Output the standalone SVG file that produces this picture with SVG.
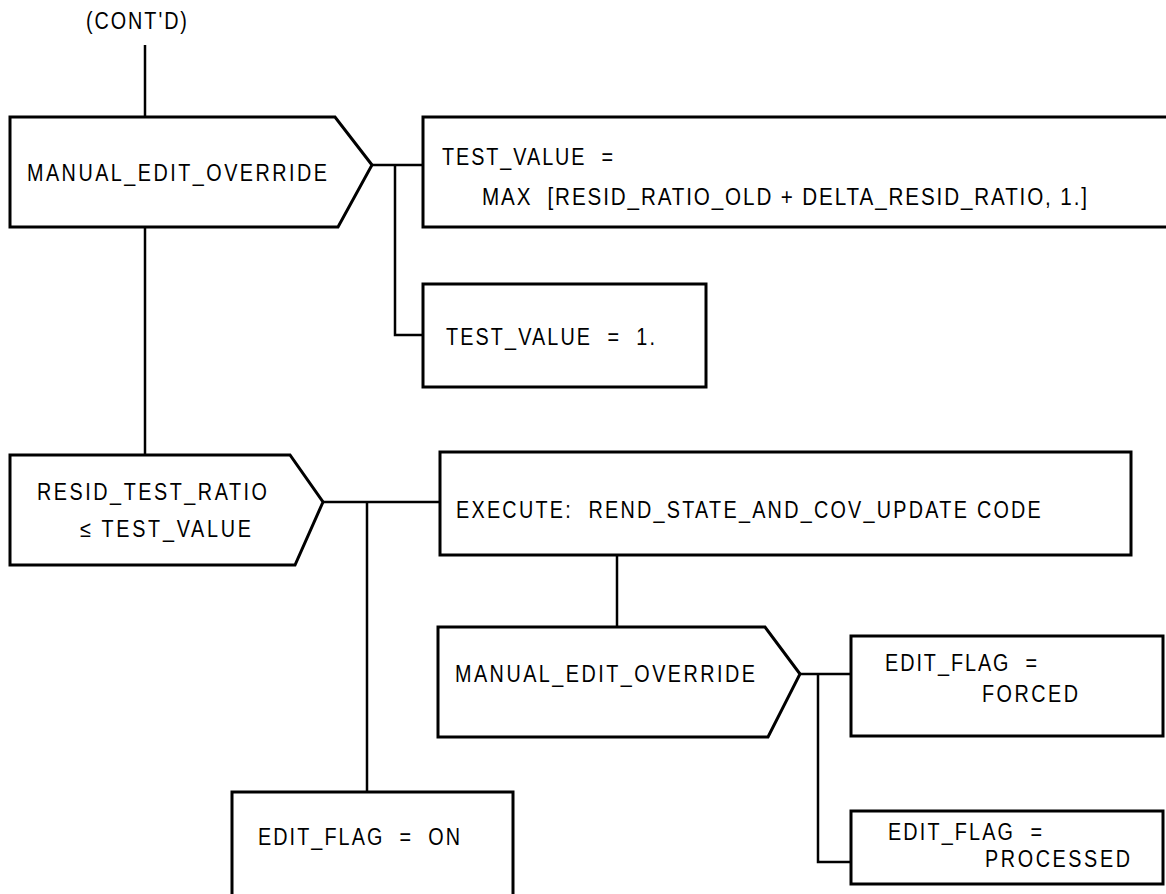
<svg xmlns="http://www.w3.org/2000/svg" width="1166" height="894" viewBox="0 0 1166 894" xml:space="preserve">
<style>
.n{fill:#fff;stroke:#000;stroke-width:3;stroke-linejoin:miter}
.c{fill:none;stroke:#000;stroke-width:2.5}
text{font-family:"Liberation Sans",Arial,sans-serif;font-size:23px;fill:#000;white-space:pre}
.big{font-size:24px}
</style>
<rect width="1166" height="894" fill="#fff"/>
<text transform="translate(86,29) scale(0.86,1)" textLength="117.4" lengthAdjust="spacing">(CONT'D)</text>
<g id="connectors">
<polyline class="c" points="145,45 145,117"/>
<polyline class="c" points="145,227 145,455"/>
<polyline class="c" points="372,165 423,165"/>
<polyline class="c" points="395,165 395,335 423,335"/>
<polyline class="c" points="323,502 440,502"/>
<polyline class="c" points="367,502 367,792"/>
<polyline class="c" points="617,555 617,627"/>
<polyline class="c" points="800,674 851,674"/>
<polyline class="c" points="818,674 818,862 851,862"/>
</g>
<g id="n1">
<polygon class="n" points="10,117 335,117 372,165 338,227 10,227"/>
<text transform="translate(27,181) scale(0.86,1)" textLength="348.8" lengthAdjust="spacing">MANUAL_EDIT_OVERRIDE</text>
</g>
<g id="n2">
<rect class="n" x="423" y="117" width="760" height="110"/>
<text transform="translate(442,165) scale(0.86,1)" textLength="198.8" lengthAdjust="spacing">TEST_VALUE  =</text>
<text class="big" transform="translate(482,205) scale(0.86,1)" textLength="703.5" lengthAdjust="spacing">MAX  [RESID_RATIO_OLD + DELTA_RESID_RATIO, 1.]</text>
</g>
<g id="n3">
<rect class="n" x="423" y="284" width="283" height="103"/>
<text transform="translate(446,345) scale(0.86,1)" textLength="243" lengthAdjust="spacing">TEST_VALUE  =  1.</text>
</g>
<g id="n4">
<polygon class="n" points="10,455 290,455 323,502 295,565 10,565"/>
<text transform="translate(37,500) scale(0.86,1)" textLength="267.4" lengthAdjust="spacing">RESID_TEST_RATIO</text>
<text transform="translate(80,537) scale(0.86,1)" textLength="198.8" lengthAdjust="spacing">≤ TEST_VALUE</text>
</g>
<g id="n5">
<rect class="n" x="440" y="452" width="691" height="103"/>
<text transform="translate(456,518) scale(0.86,1)" textLength="680" lengthAdjust="spacing">EXECUTE:  REND_STATE_AND_COV_UPDATE CODE</text>
</g>
<g id="n6">
<polygon class="n" points="438,627 765,627 800,674 768,737 438,737"/>
<text transform="translate(455,682) scale(0.86,1)" textLength="348.8" lengthAdjust="spacing">MANUAL_EDIT_OVERRIDE</text>
</g>
<g id="n7">
<rect class="n" x="851" y="636" width="312" height="100"/>
<text transform="translate(885,671) scale(0.86,1)" textLength="176.7" lengthAdjust="spacing">EDIT_FLAG  =</text>
<text transform="translate(982,702) scale(0.86,1)" textLength="111.6" lengthAdjust="spacing">FORCED</text>
</g>
<g id="n8">
<rect class="n" x="851" y="811" width="312" height="73"/>
<text transform="translate(888,840) scale(0.86,1)" textLength="179" lengthAdjust="spacing">EDIT_FLAG  =</text>
<text transform="translate(985,867) scale(0.86,1)" textLength="168.6" lengthAdjust="spacing">PROCESSED</text>
</g>
<g id="n9">
<rect class="n" x="232" y="792" width="281" height="110"/>
<text transform="translate(258,845) scale(0.86,1)" textLength="234.9" lengthAdjust="spacing">EDIT_FLAG  =  ON</text>
</g>
</svg>
